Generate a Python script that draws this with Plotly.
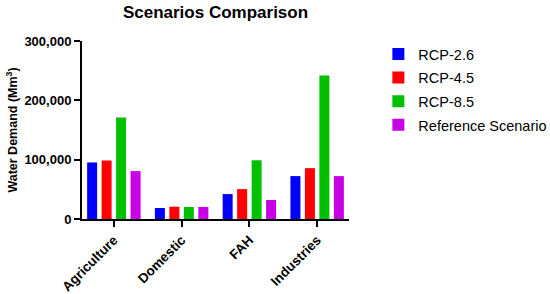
import plotly.graph_objects as go

categories = ["Agriculture", "Domestic", "FAH", "Industries"]
series_names = ["RCP-2.6", "RCP-4.5", "RCP-8.5", "Reference Scenario"]
rcp26 = [95300, 18500, 42000, 72300]
rcp45 = [98600, 20700, 50400, 85700]
rcp85 = [171000, 20200, 99000, 242000]
reference = [80700, 20200, 32000, 72300]
colors = ["#0000FF", "#FF0000", "#00C000", "#C800E6"]
y_ticks = [0, 100000, 200000, 300000]

FONT = "Liberation Sans, Arial, sans-serif"

fig = go.Figure()
for i, (name, vals, col) in enumerate(zip(series_names, [rcp26, rcp45, rcp85, reference], colors)):
    fig.add_trace(go.Bar(x=categories, y=vals, name=name, legendgroup="g%d" % i,
                         marker=dict(color=col, line=dict(width=0))))

fig.update_layout(
    width=550, height=294,
    margin=dict(l=82, r=201, t=41, b=75, autoexpand=False),
    paper_bgcolor="white", plot_bgcolor="white",
    barmode="group", bargap=0.145, bargroupgap=0.31,
    font=dict(family=FONT, color="black"),
    title=dict(text="<b>Scenarios Comparison</b>", x=0.5, xref="paper", xanchor="center",
               y=0.96, yanchor="middle", yref="container",
               font=dict(size=17, family=FONT, color="black")),
    legend=dict(x=1.11, xanchor="left", y=1.017, yanchor="top", font=dict(size=14.5, family=FONT),
                tracegroupgap=1.8, traceorder="grouped"),
    showlegend=True,
)
fig.update_xaxes(
    range=[-0.47, 3.47], showline=True, linewidth=2, linecolor="black",
    ticks="outside", ticklen=6, tickwidth=2, tickcolor="black",
    tickangle=-45, tickfont=dict(size=13.5, family=FONT, color="black", weight="bold"),
    showgrid=False, zeroline=False, automargin=False,
)
fig.update_yaxes(
    range=[0, 300000], tickvals=y_ticks, tickformat=",d",
    showline=True, linewidth=2, linecolor="black",
    ticks="outside", ticklen=6, tickwidth=2, tickcolor="black",
    tickfont=dict(size=13, family=FONT, color="black", weight="bold"),
    showgrid=False, zeroline=False, automargin=False,
    title=dict(text="<b>Water Demand (Mm<sup>3</sup>)</b>", font=dict(size=12.5, family=FONT, color="black"), standoff=4),
)

fig.write_html("out.html", config={"displayModeBar": False},
               post_script="document.body.style.margin='0';document.body.style.overflow='hidden';")
